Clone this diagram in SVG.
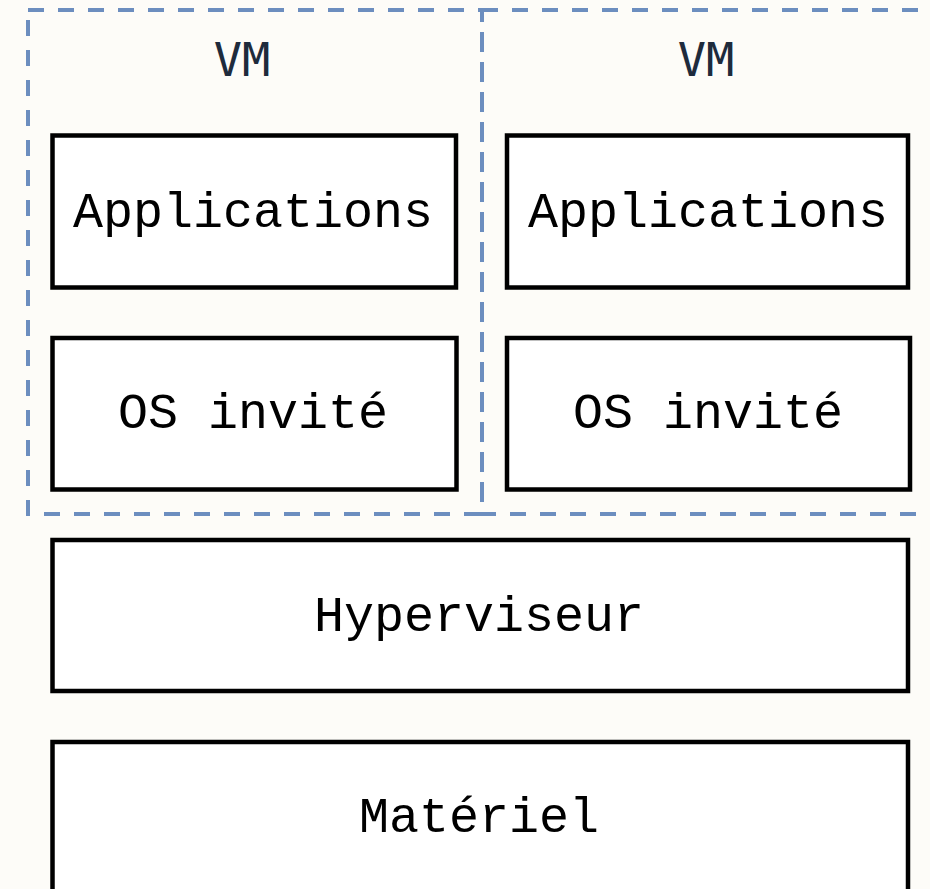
<svg xmlns="http://www.w3.org/2000/svg" width="930" height="889" viewBox="0 0 930 889">
  <style>
    .vm { fill: none; stroke: #6c8ebf; stroke-width: 4; stroke-dasharray: 16 14; }
    .box { fill: #ffffff; stroke: #000000; stroke-width: 4.5; }
    .lbl { font-family: "Liberation Mono", "DejaVu Sans Mono", monospace; font-size: 50px; fill: #000000; text-anchor: middle; }
    .vmlbl { font-family: "DejaVu Sans Mono", "Liberation Mono", monospace; font-size: 47px; fill: #1e2b3c; text-anchor: middle; }
  </style>
  <rect x="0" y="0" width="930" height="889" fill="#fdfcf8"/>
  <g id="vm1">
    <rect class="vm" x="28" y="10" width="454" height="504"/>
    <text class="vmlbl" x="242" y="76">VM</text>
  </g>
  <g id="vm2">
    <rect class="vm" x="482" y="10" width="460" height="504"/>
    <text class="vmlbl" x="706" y="76">VM</text>
  </g>
  <g id="apps1">
    <rect class="box" x="52.5" y="135.5" width="403.5" height="152"/>
    <text class="lbl" x="253" y="226.5">Applications</text>
  </g>
  <g id="apps2">
    <rect class="box" x="507" y="135.5" width="401" height="152"/>
    <text class="lbl" x="708" y="226.5">Applications</text>
  </g>
  <g id="os1">
    <rect class="box" x="52.5" y="338" width="404" height="151.5"/>
    <text class="lbl" x="253" y="428">OS invité</text>
  </g>
  <g id="os2">
    <rect class="box" x="507" y="338" width="403" height="151.5"/>
    <text class="lbl" x="708" y="428">OS invité</text>
  </g>
  <g id="hyperviseur">
    <rect class="box" x="52.5" y="540" width="855.5" height="151"/>
    <text class="lbl" x="479" y="630.5">Hyperviseur</text>
  </g>
  <g id="materiel">
    <rect class="box" x="52.5" y="742" width="855.5" height="152"/>
    <text class="lbl" x="479" y="831.5">Matériel</text>
  </g>
  <g id="connectors"/>
</svg>
